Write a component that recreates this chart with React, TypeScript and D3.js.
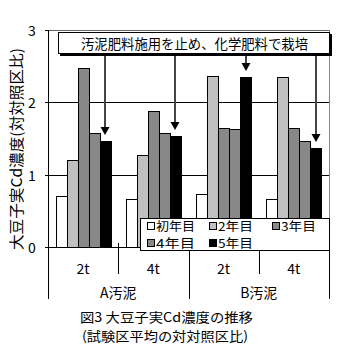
import React from "react";
import * as d3 from "d3";

const groups = ["A汚泥", "B汚泥"];
const doses = ["2t", "4t"];
const categories = ["A汚泥|2t", "A汚泥|4t", "B汚泥|2t", "B汚泥|4t"];
const series = ["初年目", "2年目", "3年目", "4年目", "5年目"];
const year1 = [0.71, 0.67, 0.73, 0.66];
const year2 = [1.2, 1.27, 2.37, 2.355];
const year3 = [2.47, 1.88, 1.645, 1.645];
const year4 = [1.57, 1.57, 1.63, 1.46];
const year5 = [1.465, 1.535, 2.35, 1.37];
const seriesValues = [year1, year2, year3, year4, year5];
const seriesColors = ["#ffffff", "#c0c0c0", "#888888", "#888888", "#000000"];
const yTicks = [0, 1, 2, 3];
const yTitle = "大豆子実Cd濃度(対対照区比)";
const note = "汚泥肥料施用を止め、化学肥料で栽培";
const caption1 = "図3  大豆子実Cd濃度の推移";
const caption2 = "(試験区平均の対対照区比)";

const FONT = "'Noto Sans CJK JP', 'Noto Sans', sans-serif";

export default function App() {
  const left = 48, right = 329, top = 30, bottom = 247;
  const x0 = d3.scaleBand<string>().domain(categories).range([left, right]).paddingInner(0).paddingOuter(0);
  const x1 = d3.scaleBand<string>().domain(series).range([0, x0.bandwidth()]).paddingInner(0).paddingOuter(0.69);
  const y = d3.scaleLinear().domain([0, 3]).range([bottom, top]);
  const groupScale = d3.scaleBand<string>().domain(groups).range([left, right]);

  const boxL = 58, boxR = 330, boxT = 32, boxB = 54;

  return (
    <svg width={361} height={363} style={{ position: "absolute", left: 0, top: 0, background: "#fff" }} fontFamily={FONT}>
      <rect x={0} y={0} width={361} height={363} fill="#fff" />
      {yTicks.filter((t) => t > 0).map((t) => (
        <line key={t} x1={left} x2={right} y1={Math.round(y(t)) + 0.5} y2={Math.round(y(t)) + 0.5}
          stroke={t === 3 ? "#666" : "#000"} shapeRendering="crispEdges" />
      ))}
      <line x1={right + 0.5} x2={right + 0.5} y1={top} y2={bottom} stroke="#888" shapeRendering="crispEdges" />
      {categories.map((c, ci) => (
        <g key={c}>
          {series.map((s, si) => {
            const v = seriesValues[si][ci];
            const bx = Math.round((x0(c) as number) + (x1(s) as number));
            const bw = Math.round(x1.bandwidth());
            const by = Math.round(y(v));
            return (
              <rect key={s} x={bx + 0.5} y={by + 0.5} width={bw} height={Math.round(y(0)) - by}
                fill={seriesColors[si]} stroke="#000" strokeWidth={1} shapeRendering="crispEdges" />
            );
          })}
        </g>
      ))}
      <line x1={left + 0.5} x2={left + 0.5} y1={top} y2={299} stroke="#000" shapeRendering="crispEdges" />
      {yTicks.map((t) => (
        <g key={t}>
          <line x1={left - 3} x2={left} y1={Math.round(y(t)) + 0.5} y2={Math.round(y(t)) + 0.5} stroke="#000" shapeRendering="crispEdges" />
          <text x={32} y={y(t)} textAnchor="middle" dominantBaseline="central" fontSize={14} fill="#000">{t}</text>
        </g>
      ))}
      <line x1={left} x2={right} y1={bottom + 0.5} y2={bottom + 0.5} stroke="#000" shapeRendering="crispEdges" />
      {categories.map((c, ci) => {
        const xe = Math.round((x0(c) as number) + x0.bandwidth()) + 0.5;
        const isGroupEnd = ci % 2 === 1;
        return (
          <g key={c}>
            <line x1={xe} x2={xe} y1={bottom - 4} y2={isGroupEnd ? 299 : 274} stroke="#000" shapeRendering="crispEdges" />
            <text x={(x0(c) as number) + x0.bandwidth() / 2} y={268} textAnchor="middle" dominantBaseline="central" fontSize={14}>
              {doses[ci % 2]}
            </text>
          </g>
        );
      })}
      {groups.map((g) => (
        <text key={g} x={(groupScale(g) as number) + groupScale.bandwidth() / 2} y={292} textAnchor="middle" dominantBaseline="central" fontSize={14}>
          {g}
        </text>
      ))}
      <text transform="translate(15,149) rotate(-90)" textAnchor="middle" dominantBaseline="central" fontSize={15}
        textLength={202} lengthAdjust="spacingAndGlyphs">{yTitle}</text>
      {categories.map((c, ci) => {
        const ax = Math.round((x0(c) as number) + (x1("5年目") as number) + x1.bandwidth() / 2);
        const tip = y(year5[ci]) - 6;
        return (
          <g key={c}>
            <line x1={ax} x2={ax} y1={boxB} y2={tip - 6} stroke="#4a4440" strokeWidth={2} />
            <path d={`M${ax - 4.5},${tip - 8} L${ax + 4.5},${tip - 8} L${ax},${tip} Z`} fill="#000" />
          </g>
        );
      })}
      <rect x={boxL + 1.5} y={boxT + 1.5} width={boxR - boxL} height={boxB - boxT} fill="#000" shapeRendering="crispEdges" />
      <rect x={boxL + 0.5} y={boxT + 0.5} width={boxR - boxL - 1} height={boxB - boxT - 1} fill="#fff" stroke="#000" shapeRendering="crispEdges" />
      <text x={194.5} y={43} textAnchor="middle" dominantBaseline="central" fontSize={13.5} textLength={227} lengthAdjust="spacingAndGlyphs">{note}</text>
      <rect x={140.5} y={218.5} width={189} height={32} fill="#fff" stroke="#000" shapeRendering="crispEdges" />
      {series.map((s, si) => {
        const col = si < 3 ? si : si - 3;
        const row = si < 3 ? 0 : 1;
        const lx = [147, 209, 272][col];
        const ly = [225.5, 242.5][row];
        return (
          <g key={s}>
            <rect x={lx + 0.5} y={Math.round(ly) - 3.5} width={7} height={7} fill={seriesColors[si]} stroke="#000" shapeRendering="crispEdges" />
            <text x={lx + 9} y={ly} dominantBaseline="central" fontSize={12} textLength={si === 0 || si === 3 ? 39 : 35} lengthAdjust="spacingAndGlyphs">{s}</text>
          </g>
        );
      })}
      <text x={80} y={316} dominantBaseline="central" fontSize={13} textLength={173} lengthAdjust="spacingAndGlyphs">{caption1}</text>
      <text x={82} y={335} dominantBaseline="central" fontSize={13} textLength={166} lengthAdjust="spacingAndGlyphs">{caption2}</text>
    </svg>
  );
}
